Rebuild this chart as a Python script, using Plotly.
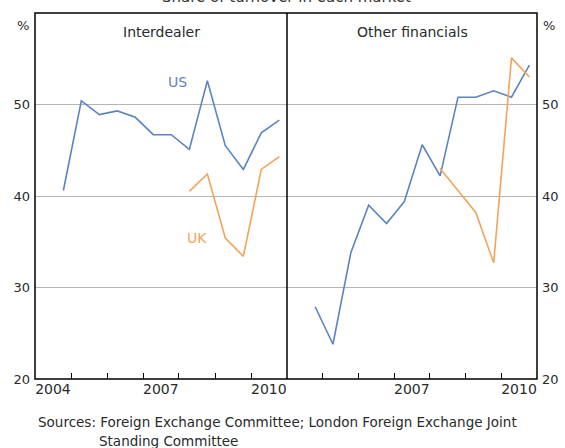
import plotly.graph_objects as go

# Survey dates (April / October)
dates = ["2004-10-15", "2005-04-15", "2005-10-15", "2006-04-15", "2006-10-15",
         "2007-04-15", "2007-10-15", "2008-04-15", "2008-10-15", "2009-04-15",
         "2009-10-15", "2010-04-15", "2010-10-15"]
uk_dates = ["2008-04-15", "2008-10-15", "2009-04-15", "2009-10-15", "2010-04-15", "2010-10-15"]

# Interdealer
inter_us = [40.6, 50.4, 48.9, 49.3, 48.6, 46.7, 46.7, 45.1, 52.6, 45.5, 42.9, 46.9, 48.3]
inter_uk = [40.5, 42.4, 35.4, 33.4, 42.9, 44.3]

# Other financials
other_us = [27.9, 23.8, 33.8, 39.0, 37.0, 39.4, 45.6, 42.2, 50.8, 50.8, 51.5, 50.8, 54.3]
other_uk = [43.0, 40.6, 38.2, 32.7, 55.1, 53.0]

panel_titles = ["Interdealer", "Other financials"]
left_ticks = ["2004-07-01", "2007-07-01", "2010-07-01"]
left_labels = ["2004", "2007", "2010"]
right_ticks = ["2007-07-01", "2010-07-01"]
right_labels = ["2007", "2010"]
year_marks = ["2005-01-01", "2006-01-01", "2007-01-01", "2008-01-01", "2009-01-01", "2010-01-01"]
y_ticks = [20, 30, 40, 50]

US_C = "#5a84c4"
UK_C = "#f2a45a"
FONT = "DejaVu Sans, Liberation Sans, Arial, sans-serif"
TXT = "#2a2a2a"

fig = go.Figure()
fig.add_trace(go.Scatter(x=dates, y=inter_us, mode="lines", line=dict(color=US_C, width=1.6),
                         xaxis="x", yaxis="y", showlegend=False))
fig.add_trace(go.Scatter(x=uk_dates, y=inter_uk, mode="lines", line=dict(color=UK_C, width=1.6),
                         xaxis="x", yaxis="y", showlegend=False))
fig.add_trace(go.Scatter(x=dates, y=other_us, mode="lines", line=dict(color=US_C, width=1.6),
                         xaxis="x2", yaxis="y2", showlegend=False))
fig.add_trace(go.Scatter(x=uk_dates, y=other_uk, mode="lines", line=dict(color=UK_C, width=1.6),
                         xaxis="x2", yaxis="y2", showlegend=False))

W, H = 565, 448
ml, mr, mt, mb = 35, 28, 13, 69
pw = W - ml - mr
split = 252 / pw

xcommon = dict(type="date", range=["2004-01-01", "2011-01-01"], showgrid=False, zeroline=False,
               showline=False, automargin=False,
               ticks="", tickfont=dict(family=FONT, size=14, color=TXT),
               minor=dict(tickvals=year_marks, ticks="inside", ticklen=6, tickcolor="black",
                          tickwidth=1, showgrid=False))
ycommon = dict(range=[20, 60], tickvals=y_ticks, showgrid=True, gridcolor="#b4b4b4", gridwidth=1,
               zeroline=False, showline=False, automargin=False, ticks="",
               tickfont=dict(family=FONT, size=13, color=TXT))

fig.update_layout(
    width=W, height=H,
    margin=dict(l=ml, r=mr, t=mt, b=mb),
    paper_bgcolor="white", plot_bgcolor="white",
    xaxis=dict(xcommon, domain=[0, split], tickvals=left_ticks, ticktext=left_labels, anchor="y"),
    xaxis2=dict(xcommon, domain=[split, 1], tickvals=right_ticks, ticktext=right_labels, anchor="y2"),
    yaxis=dict(ycommon, anchor="x", side="left", ticklabelstandoff=4),
    yaxis2=dict(ycommon, anchor="x2", side="right", ticklabelstandoff=4),
    shapes=[
        dict(type="rect", xref="paper", yref="paper", x0=0, x1=1, y0=0, y1=1,
             line=dict(color="black", width=1.5), layer="above"),
        dict(type="line", xref="paper", yref="paper", x0=split, x1=split, y0=0, y1=1,
             line=dict(color="black", width=1.5), layer="above"),
    ],
)

ann = [
    dict(text="Share of turnover in each market", xref="paper", yref="paper",
         x=0.5, y=1.0, yshift=mt - 8, xanchor="center", yanchor="bottom",
         showarrow=False, font=dict(family=FONT, size=15, color="#333")),
    dict(text=panel_titles[0], xref="x domain", yref="y domain", x=0.5, y=1, yshift=-9,
         xanchor="center", yanchor="top", showarrow=False,
         font=dict(family=FONT, size=14, color=TXT)),
    dict(text=panel_titles[1], xref="x2 domain", yref="y2 domain", x=0.5, y=1, yshift=-9,
         xanchor="center", yanchor="top", showarrow=False,
         font=dict(family=FONT, size=14, color=TXT)),
    dict(text="%", xref="paper", yref="paper", x=0, xshift=-4, y=1, yshift=-3,
         xanchor="right", yanchor="top", showarrow=False,
         font=dict(family=FONT, size=13, color=TXT)),
    dict(text="%", xref="paper", yref="paper", x=1, xshift=4, y=1, yshift=-3,
         xanchor="left", yanchor="top", showarrow=False,
         font=dict(family=FONT, size=13, color=TXT)),
    dict(text="US", xref="x", yref="y", x="2007-12-20", y=52.5, showarrow=False,
         font=dict(family=FONT, size=14, color=US_C)),
    dict(text="UK", xref="x", yref="y", x="2008-06-28", y=35.4, showarrow=False,
         font=dict(family=FONT, size=14, color=UK_C)),
    dict(text="Sources: Foreign Exchange Committee; London Foreign Exchange Joint",
         xref="paper", yref="paper", x=0, xshift=1, y=0, yshift=-33,
         xanchor="left", yanchor="top", align="left", showarrow=False,
         font=dict(family=FONT, size=13.5, color=TXT)),
    dict(text="Standing Committee",
         xref="paper", yref="paper", x=0, xshift=62, y=0, yshift=-52,
         xanchor="left", yanchor="top", align="left", showarrow=False,
         font=dict(family=FONT, size=13.5, color=TXT)),
]
fig.update_layout(annotations=ann)

fig.write_html("out.html", config={"displayModeBar": False},
               post_script="document.body.style.margin='0px';document.body.style.overflow='hidden';")
